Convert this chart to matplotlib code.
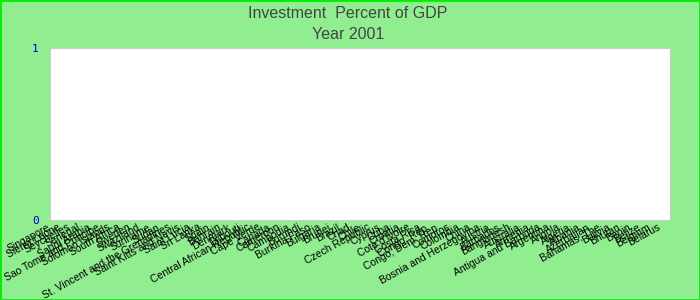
import matplotlib.pyplot as plt
import numpy as np

# country labels (left to right)
countries = [
    "Singapore", "Sierra Leone", "Seychelles", "Senegal", "Saudi Arabia",
    "Sao Tome and Principe", "Solomon Islands", "South Africa", "Sweden",
    "Swaziland", "Suriname", "Sudan", "St. Vincent and the Grenadines",
    "Saint Kitts and Nevis", "Saint Lucia", "Sri Lanka", "Spain", "Bahrain",
    "Denmark", "Djibouti", "Central African Republic", "Cape Verde", "Canada",
    "Cameroon", "Cambodia", "Burundi", "Burkina Faso", "Bulgaria", "Brunei",
    "Brazil", "Chad", "Chile", "Czech Republic", "Cyprus", "Cuba", "Croatia",
    "Cote d'Ivoire", "Costa Rica", "Congo, Rep.", "Congo, Dem. Rep.",
    "Comoros", "Colombia", "China", "Bosnia and Herzegovina", "Austria",
    "Barbados", "Bangladesh", "Australia", "Armenia", "Antigua and Barbuda",
    "Argentina", "Angola", "Algeria", "Albania", "Azerbaijan", "Bahamas, The",
    "Bolivia", "Bhutan", "Benin", "Belize", "Belgium", "Belarus",
]
# no bars are drawn in the reference: every value sits at 0
values = [0, 0, 0, 0, 0, 0, 0, 0, 0, 0, 0, 0, 0, 0, 0, 0, 0, 0, 0, 0, 0,
          0, 0, 0, 0, 0, 0, 0, 0, 0, 0, 0, 0, 0, 0, 0, 0, 0, 0, 0, 0, 0,
          0, 0, 0, 0, 0, 0, 0, 0, 0, 0, 0, 0, 0, 0, 0, 0, 0, 0, 0, 0]
ytick_vals = [0, 1]

plt.rcParams['font.family'] = ['Liberation Sans', 'DejaVu Sans']

fig = plt.figure(figsize=(7, 3), dpi=100, facecolor='#90ee90')
ax = fig.add_axes([50 / 700, 1 - 220 / 300, 620 / 700, 172 / 300])
ax.set_facecolor('white')

x = np.arange(len(countries))
ax.bar(x, values, width=0.6, color='#3366cc')

ax.set_ylim(0, 1)
ax.set_yticks(ytick_vals)
ax.set_yticklabels([str(v) for v in ytick_vals], color='#0000cc',
                   family='DejaVu Sans Mono', fontsize=8)
ax.set_xlim(-0.2, len(countries) - 0.2)
ax.set_xticks(x)
ax.set_xticklabels(countries, rotation=29, ha='right', fontsize=7.5)
ax.tick_params(axis='both', length=0, pad=8)
ax.tick_params(axis='x', pad=1.5)
for s in ax.spines.values():
    s.set_color('#cccccc')

fig.text(0.497, 0.955, "Investment  Percent of GDP", ha='center', va='center',
         fontsize=11.5, color='#444444')
fig.text(0.497, 0.885, "Year 2001", ha='center', va='center',
         fontsize=11.5, color='#444444')

# green frame round the whole picture
fig.patches.append(plt.Rectangle((0, 0), 1, 1, transform=fig.transFigure,
                                 fill=False, edgecolor='#00ee00', linewidth=2))

fig.savefig('out.png', dpi=100, facecolor=fig.get_facecolor())
